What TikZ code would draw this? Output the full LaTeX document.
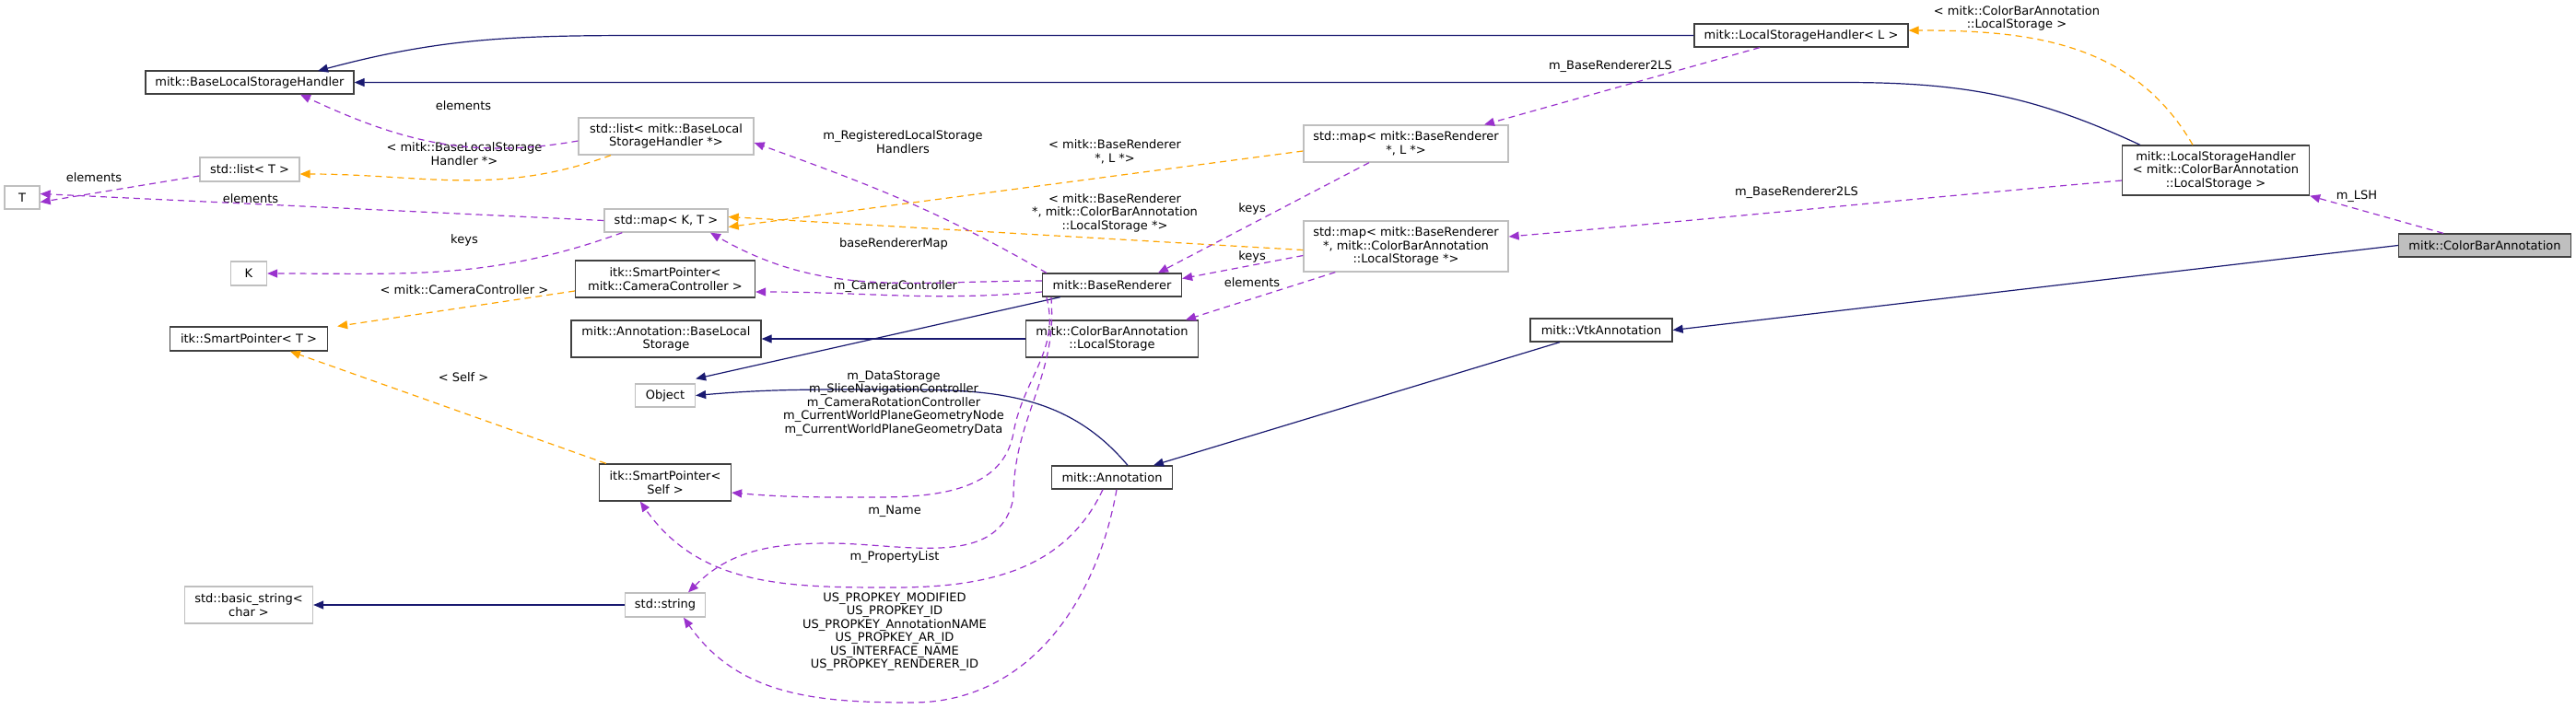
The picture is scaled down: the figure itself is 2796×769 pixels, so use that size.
\documentclass[tikz,border=0pt]{standalone}
\usepackage{fontspec}
\setmainfont{DejaVu Sans}
\usetikzlibrary{arrows.meta}
\definecolor{inhblue}{HTML}{191970}
\definecolor{tplorange}{HTML}{FFA500}
\definecolor{usepurple}{HTML}{9A32CD}
\begin{document}
\begin{tikzpicture}[x=1pt,y=-1pt,
  every node/.style={font=\fontsize{13}{14.5}\selectfont,align=center,inner sep=0pt},
  cls/.style={draw=black!75,line width=1.3pt,fill=white,minimum width=#1},
  ext/.style={draw=black!25,line width=1.3pt,fill=white,minimum width=#1},
  inh/.style={draw=inhblue,line width=1.2pt,-{Triangle[length=11pt,width=9pt]}},
  tpl/.style={draw=tplorange,line width=1.2pt,dash pattern=on 7pt off 5pt,-{Triangle[length=11pt,width=9pt,fill=tplorange]}},
  use/.style={draw=usepurple,line width=1.2pt,dash pattern=on 7pt off 5pt,-{Triangle[length=11pt,width=9pt,fill=usepurple]}},
  lbl/.style={fill=none}]
\useasboundingbox (0,0) rectangle (2796,769);
% classes
\node[cls=226pt,minimum height=25pt](blsh)at(271,89.5){mitk::BaseLocalStorageHandler};
\node[cls=232pt,minimum height=25pt](lshl)at(1955,38.5){mitk::LocalStorageHandler< L >};
\node[ext=190pt,minimum height=40pt](listblsh)at(723,148){std::list< mitk::BaseLocal\\StorageHandler *>};
\node[ext=108pt,minimum height=26pt](listt)at(271,184){std::list< T >};
\node[ext=38pt,minimum height=25pt](t)at(24,214.5){T};
\node[ext=134pt,minimum height=25pt](mapkt)at(723,239.5){std::map< K, T >};
\node[ext=39pt,minimum height=26pt](k)at(270,297){K};
\node[cls=195pt,minimum height=40pt](spcam)at(722,303){itk::SmartPointer<\\mitk::CameraController >};
\node[cls=171pt,minimum height=26pt](spt)at(270,368){itk::SmartPointer< T >};
\node[cls=206pt,minimum height=40pt](annbls)at(723,368){mitk::Annotation::BaseLocal\\Storage};
\node[ext=65pt,minimum height=25pt](object)at(722,429.5){Object};
\node[cls=143pt,minimum height=40pt](spself)at(722,524){itk::SmartPointer<\\Self >};
\node[ext=139pt,minimum height=40pt](basicstr)at(270,657){std::basic\_string<\\char >};
\node[ext=87pt,minimum height=26pt](str)at(722,657){std::string};
\node[cls=151pt,minimum height=25pt](br)at(1207,309.5){mitk::BaseRenderer};
\node[cls=187pt,minimum height=40pt](cbals)at(1207,368){mitk::ColorBarAnnotation\\::LocalStorage};
\node[cls=131pt,minimum height=25pt](annot)at(1207,518.5){mitk::Annotation};
\node[ext=222pt,minimum height=40pt](mapbrl)at(1526,156){std::map< mitk::BaseRenderer\\*, L *>};
\node[ext=222pt,minimum height=55pt](mapbrcba)at(1526,267.5){std::map< mitk::BaseRenderer\\*, mitk::ColorBarAnnotation\\::LocalStorage *>};
\node[cls=154pt,minimum height=25pt](vtk)at(1738,358.5){mitk::VtkAnnotation};
\node[cls=203pt,minimum height=54pt](lshcba)at(2405,185){mitk::LocalStorageHandler\\< mitk::ColorBarAnnotation\\::LocalStorage >};
\node[cls=187pt,minimum height=25pt,fill=black!25](cba)at(2697,266.5){mitk::ColorBarAnnotation};
% inheritance
\draw[inh](lshl.west)--(700,38.5)to[out=180,in=15](345,77);
\draw[inh]([xshift=20pt]lshcba.north west)to[out=155,in=0](2000,89.5)--(blsh.east);
\draw[inh](cba.west)--(vtk.east);
\draw[inh]([xshift=-45pt]vtk.south)--([xshift=45pt]annot.north);
\draw[inh]([xshift=20pt]br.south west)--([yshift=5pt]object.north east);
\draw[inh]([xshift=17pt]annot.north)to[out=130,in=0](960,423)to[out=180,in=5](object.east);
\draw[inh](cbals.west)--(annbls.east);
\draw[inh](str.west)--(basicstr.east);
% templates
\draw[tpl]([xshift=-25pt]lshcba.north)to[out=120,in=0](lshl.east|-0,33);
\draw[tpl]([xshift=-60pt]listblsh.south)to[out=200,in=0](listt.east|-0,189);
\draw[tpl]([yshift=-8pt]mapbrl.west)--([yshift=-7pt]mapkt.east);
\draw[tpl]([yshift=-4pt]mapbrcba.west)--([yshift=4pt]mapkt.east);
\draw[tpl](spcam.west|-0,316)--([xshift=10pt]spt.north east);
\draw[tpl]([xshift=8pt]spself.north west)--([xshift=45pt]spt.south);
% members
\node[lbl](l1)at(2189,20){< mitk::ColorBarAnnotation\\::LocalStorage >};
\node[lbl](l2)at(503,115){elements};
\node[lbl](l3)at(504,167){< mitk::BaseLocalStorage\\Handler *>};
\node[lbl](l4)at(102,193){elements};
\node[lbl](l5)at(272,216){elements};
\node[lbl](l6)at(504,261){keys};
\node[lbl](l7)at(504,315){< mitk::CameraController >};
\node[lbl](l8)at(503,410){< Self >};
\node[lbl](l9)at(980,154){m\_RegisteredLocalStorage\\Handlers};
\node[lbl](l10)at(970,265){baseRendererMap};
\node[lbl](l11)at(972,311){m\_CameraController};
\node[lbl](l12)at(1748,72){m\_BaseRenderer2LS};
\node[lbl](l13)at(1210,165){< mitk::BaseRenderer\\*, L *>};
\node[lbl](l14)at(1210,231){< mitk::BaseRenderer\\*, mitk::ColorBarAnnotation\\::LocalStorage *>};
\node[lbl](l15)at(1359,227){keys};
\node[lbl](l16)at(1359,279){keys};
\node[lbl](l17)at(1359,307){elements};
\node[lbl](l18)at(1950,209){m\_BaseRenderer2LS};
\node[lbl](l19)at(2558,213){m\_LSH};
\node[lbl](l20)at(970,438){m\_DataStorage\\m\_SliceNavigationController\\m\_CameraRotationController\\m\_CurrentWorldPlaneGeometryNode\\m\_CurrentWorldPlaneGeometryData};
\node[lbl](l21)at(971,555){m\_Name};
\node[lbl](l22)at(971,605){m\_PropertyList};
\node[lbl](l23)at(971,686){US\_PROPKEY\_MODIFIED\\US\_PROPKEY\_ID\\US\_PROPKEY\_AnnotationNAME\\US\_PROPKEY\_AR\_ID\\US\_INTERFACE\_NAME\\US\_PROPKEY\_RENDERER\_ID};
\draw[use]([yshift=-5pt]listblsh.west)to[out=190,in=-25]([xshift=55pt]blsh.south);
\draw[use](listt.west|-0,191)--([yshift=-5pt]t.east);
\draw[use](mapkt.west)--([yshift=4pt]t.east);
\draw[use]([xshift=20pt]mapkt.south west)to[out=200,in=0](k.east);
\draw[use]([xshift=5pt]br.north west)to[out=150,in=-20]([yshift=-7pt]listblsh.east);
\draw[use](br.west|-0,305)to[out=180,in=-30]([xshift=48pt]mapkt.south);
\draw[use](br.west|-0,317)to[out=185,in=0](spcam.east|-0,317);
\draw[use]([xshift=-45pt]lshl.south)--([xshift=85pt]mapbrl.north);
\draw[use]([xshift=-40pt]mapbrl.south)--([xshift=50pt]br.north);
\draw[use]([yshift=-10pt]mapbrcba.west)--([yshift=7pt]br.east);
\draw[use]([xshift=35pt]mapbrcba.south west)--([xshift=80pt]cbals.north);
\draw[use]([yshift=-11pt]lshcba.west)to[out=185,in=5](mapbrcba.east|-0,257);
\draw[use]([xshift=-45pt]cba.north)--(lshcba.south east);
\draw[use]([xshift=5pt]br.south west)to[out=-75,in=80](1100,470)to[out=-100,in=0](950,540)to[out=180,in=-5](spself.east|-0,535);
\draw[use]([xshift=10pt]br.south west)to[out=-85,in=90](1100,540)to[out=-100,in=0](900,590)to[out=180,in=45]([xshift=25pt]str.north);
\draw[use]([xshift=-10pt]annot.south)to[out=-115,in=0](970,638)to[out=180,in=-55]([xshift=45pt]spself.south west);
\draw[use]([xshift=5pt]annot.south)to[out=-100,in=0](990,763)to[out=180,in=-55]([xshift=20pt]str.south);
\end{tikzpicture}
\end{document}
